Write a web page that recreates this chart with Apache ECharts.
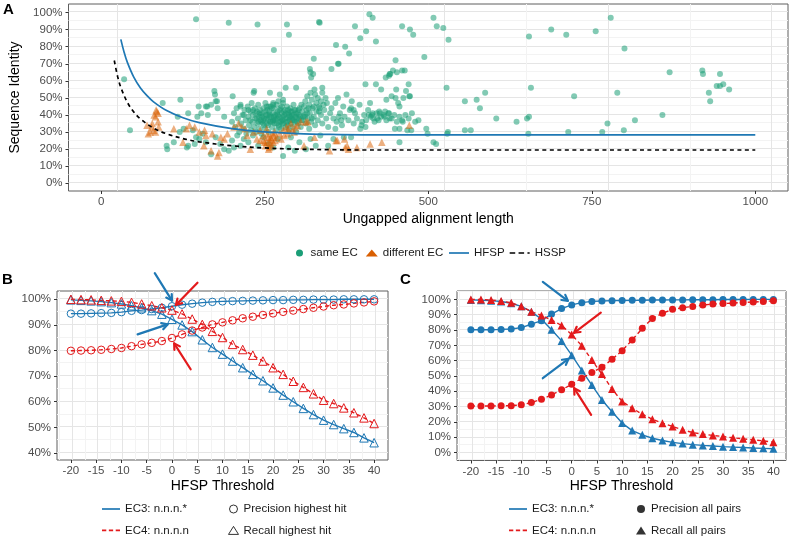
<!DOCTYPE html>
<html><head><meta charset="utf-8">
<script src="https://cdn.jsdelivr.net/npm/echarts@6/dist/echarts.min.js"></script>
<style>html,body{margin:0;padding:0;background:#fff}#c{width:791px;height:540px}</style>
</head><body><div id="c"></div>
<script>
const FONT = "'Liberation Sans', Arial, Helvetica, sans-serif";
const BLUE = '#1f78b4', RED = '#e31a1c', GREEN = '#1b9e77', ORANGE = '#d95f02';

// ---------- Panel A data ----------
const sameEC = [
 [35,61],[44,31],[145,96],[195,94],[239,93],[284,93],[287,87],[333,94.5],[334,94],[264,78],[192,71],[325,73],[359,81],[373,80],[379,76],
 [388,92],[405,89],[396,85],[410,99],[415,97],[420,83],[460,92],[472,90],[477,87],[508,97],[513,92],[523,91],[531,84],[494,74],[450,72],
 [352,67],[363,70],[324,64],[319,67],[362,70],[420,58],[435,62],[441,64],[446,66],[460,66],[404,58],[428,55],[452,65],[464,66],[470,58],
 [466,54],[451,55],[450,50],[462,50],[472,51],[528,56],[556,48],[574,49],[587,53],[579,44],[485,37],[461,36],[456,32],[449,32],[468,31],
 [474,31],[497,32],[499,29],[530,30],[556,31],[565,31],[604,38],[635,36],[651,38],[654,39],[653,29],[654,86],[688,90],[711,87],[657,56],
 [723,51],[714,30],[756,89],[779,97],[800,79],[789,53],[766,30],[774,35],[799,31],[816,37],[858,40],[869,65],[919,66],[920,64],[946,64],
 [929,53],[931,48],[941,57],[946,57],[951,58],[960,55],[456,24],[508,24],[512,23],[411,47],[436,49],[444,51],[454,47],[456,45],[471,51],
 [382,44],[386,43],[414,40],[421,41],[426,41],[434,42],[439,41],[433,39],[441,38],[399,36],[396,32],[404,33],[409,40],[416,38],[424,37],
 [382,27],[371,27],[363,39],[367,37],[358,32],[529,29],[440,63],[442,64],
 [94,47],[117,39],[121,49],[126,32],[133,41],[140,31],[145,27],[147,39],[149,45],[153,41],[160,45],[162,45],[163,40],[168,46],[173,54],
 [174,52],[175,48],[177,48],[178,44],[188,39],[201,51],[213,45],[218,40],[225,43],[233,53],[234,54],[256,45],[258,53],[263,47],[271,48],
 [273,52],[278,49],[282,56],[298,56],[320,65],[321,62],[338,56],
 [200,36],[203,41],[205,33],[207,44],[209,38],[211,30],[213,46],[214,35],[216,40],[218,32],[219,43],[221,37],[222,29],[224,45],[225,39],
 [226,34],[228,42],[229,31],[230,47],[231,36],[232,40],[234,33],[235,44],[236,38],[237,30],[238,42],[239,35],[240,46],[241,39],[242,32],
 [243,43],[244,37],[245,29],[246,41],[247,35],[248,44],[249,38],[250,32],[251,47],[252,40],[253,35],[254,43],[255,37],[256,30],[257,42],
 [258,36],[259,45],[260,39],[261,33],[262,41],[263,37],[264,44],[265,35],[266,40],[267,31],[268,46],[269,38],[270,42],[271,34],[272,39],
 [273,36],[274,44],[275,32],[276,41],[277,37],[278,47],[279,35],[280,40],[281,43],[282,33],[283,38],[284,45],[285,36],[286,41],[287,31],
 [288,39],[289,44],[290,35],[291,42],[292,37],[293,33],[294,46],[295,40],[296,36],[297,43],[298,30],[299,38],[300,41],[301,35],[303,44],
 [304,39],[305,33],[307,42],[308,37],[310,45],[311,40],[313,35],[314,43],[316,38],[318,32],[319,41],[321,36],[323,44],[325,39],[327,34],
 [329,42],[331,37],[333,45],[336,40],[338,35],[341,43],[344,38],[347,33],[350,41],[245,36],[255,34],[265,38],[275,36],[285,34],[262,36],
 [272,33],[282,41],[252,38],[268,35],[278,39],[288,37],[258,40],[248,37],[238,38],[228,37],[292,40],[302,38],[312,39],[242,41],[232,43],
 [246,39],[251,42],[257,39],[261,44],[266,37],[270,40],[274,38],[279,42],[283,36],[287,40],[291,38],[295,43],[299,36],[303,40],[306,37],
 [249,34],[254,40],[259,36],[264,39],[269,41],[273,43],[277,35],[281,38],[286,43],[290,39],[294,37],[298,41],[302,43],[309,39],[244,40],
 [236,41],[240,36],[253,45],[263,46],[276,45],[289,42],[297,39],[306,46],[315,41],[322,38],
 [312,48],[315,51],[318,46],[320,53],[322,49],[325,45],[327,52],[329,47],[331,50],[334,44],[336,48],[338,53],[340,46],[343,50],[345,47],
 [326,55],[317,44],[333,42],
 [352,44],[355,38],[358,47],[360,36],[362,50],[365,41],[368,34],[370,45],[372,39],[375,52],[378,37],[380,43],[383,48],[386,35],[388,41],
 [391,38],[395,46],[398,34],[402,40],[405,37],[408,43],[412,39],[415,41],[418,36],[422,38],[425,42],[428,39],[432,40],[436,37],[440,41],
 [444,38],[448,40],[452,36],[456,39],[460,37],[465,40],[470,38],[475,41],[480,36],
 [100,22],[101,20],[111,24],[120,30],[131,21],[133,22],[143,23],[150,26],[155,29],[160,24],[168,17],[175,27],[182,23],[188,20],[195,19],
 [200,25],[203,21],[208,28],[213,22],[218,26],[225,24],[232,28],[240,22],[248,27],[256,23],[263,21],[270,26],[278,16],[286,21],[290,27],
 [296,19],[303,24],[313,20],[320,26],[328,22],[335,28],[347,22],[355,26]
];
const differentEC = [
 [70,34],[72,29],[75,30],[77,33],[78,35],[80,31],[81,40],[83,30],[83,39],[84,43],[85,42],[87,41],[87,36],[88,33],[111,32],[125,24],
 [130,32],[135,34],[143,33],[150,30],[157,22],[158,31],[168,19],[178,16],[180,18],[188,26],[193,29],[203,33],[210,35],[223,28],[228,20],
 [233,30],[238,26],[243,31],[243,25],[248,25],[248,28],[250,24],[253,32],[253,24],[255,27],[256,20],[257,21],[258,23],[258,25],[260,26],
 [262,29],[263,24],[265,30],[268,27],[273,29],[278,31],[283,33],[286,32],[290,35],[295,30],[300,34],[305,36],[310,22],[313,36],[316,36],
 [326,27],[349,19],[359,25],[361,25],[372,26],[373,21],[376,22],[378,20],[391,21],[411,23],[429,24],[471,34],
 [160,28],[170,29],[183,27],[215,33],[220,32],[251,22],[254,29],[259,27],[261,22],[264,28],[266,25],[275,26],[280,28],[285,29],[292,31],[297,33]
];
const hfspLen   = [30,35,40,50,60,70,80,100,125,150,200,250,300,350,400,450,1000];
const hfspIdent = [84.3,76.8,70.8,62.0,55.8,51.3,47.7,42.6,38.4,35.5,32.0,30.1,29.1,28.6,28.4,28.4,28.4];
const hsspLen   = [20,25,30,40,50,60,80,100,125,150,200,250,300,350,400,450,1000];
const hsspIdent = [71.9,62.7,56.2,47.4,41.7,37.7,32.3,29.0,26.2,24.3,22.0,20.7,20.0,19.7,19.5,19.5,19.5];

// ---------- Panels B & C data ----------
const thresholds = [-20,-18,-16,-14,-12,-10,-8,-6,-4,-2,0,2,4,6,8,10,12,14,16,18,20,22,24,26,28,30,32,34,36,38,40];
const bEc3Precision = [94.4,94.4,94.5,94.6,94.7,95.0,95.5,95.8,96.2,96.7,97.3,97.9,98.3,98.7,99.0,99.2,99.3,99.4,99.5,99.6,99.7,99.7,99.8,99.8,99.9,99.9,99.9,100,100,100,100];
const bEc3Recall    = [99.8,99.6,99.4,99.1,98.7,98.2,97.5,96.7,95.6,94.2,92.2,90.0,87.4,84.2,81.2,78.6,75.9,73.3,70.7,68.2,65.4,62.6,60.0,57.4,55.0,52.8,51.1,49.5,48.0,45.9,44.0];
const bEc4Precision = [79.9,80.0,80.1,80.3,80.6,81.0,81.7,82.4,83.0,83.7,84.9,86.3,87.8,89.0,90.2,91.0,91.8,92.6,93.2,93.9,94.5,95.1,95.6,96.2,96.7,97.2,97.7,98.0,98.4,98.8,99.2];
const bEc4Recall    = [100,99.9,99.8,99.6,99.4,99.2,98.8,98.2,97.5,96.7,95.8,94.3,92.3,90.2,87.5,85.1,82.4,80.4,78.2,75.9,73.3,70.7,68.0,65.6,63.1,60.6,59.3,57.6,55.7,53.7,51.5];
const cEc3Precision = [80.2,80.2,80.2,80.4,80.7,81.6,83.8,86.1,90.4,94.0,96.4,97.9,98.7,99.0,99.2,99.3,99.4,99.5,99.6,99.6,99.7,99.7,99.8,99.8,99.8,99.9,99.9,99.9,100,100,100];
const cEc3Recall    = [99.7,99.5,99.2,98.6,97.5,95.5,92.0,87.0,80.2,72.9,63.6,53.6,44.0,34.3,26.6,19.2,14.3,11.5,9.3,7.8,6.6,5.8,5.1,4.6,4.2,3.8,3.5,3.2,2.9,2.7,2.4];
const cEc4Precision = [30.4,30.4,30.4,30.5,30.6,31.1,32.6,34.8,37.6,40.9,44.6,48.5,52.2,55.7,60.9,66.5,73.5,81.1,87.6,90.9,93.5,94.6,95.4,96.3,97.0,97.3,97.6,98.0,98.3,98.7,99.1];
const cEc4Recall    = [100,100,99.6,98.9,97.8,95.5,92.0,89.5,86.5,83.0,77.0,69.7,60.4,51.2,41.5,33.3,28.9,25.0,21.7,19.1,17.0,14.8,13.0,12.0,11.1,10.4,9.6,8.9,8.3,7.6,6.7];

// tick labels
const aXTicks = [0,250,500,750,1000];
const aYTicks = [0,10,20,30,40,50,60,70,80,90,100];
const bcXTicks = [-20,-15,-10,-5,0,5,10,15,20,25,30,35,40];
const bYTicks = [40,50,60,70,80,90,100];
const cYTicks = [0,10,20,30,40,50,60,70,80,90,100];

// arrows: [tailX, tailY, headX, headY]
const arrowsB = [
  {c: BLUE, p: [-3.4,110.2, 0,99.5]},
  {c: RED,  p: [5.05,106.5, 0.77,97.8]},
  {c: BLUE, p: [-6.8,86.3, -0.87,90.2]},
  {c: RED,  p: [3.7,72.7, 0.43,82.8]}
];
const arrowsC = [
  {c: BLUE, p: [-5.73,111.5, -0.77,99.1]},
  {c: RED,  p: [5.77,91.3, 0.48,78.2]},
  {c: BLUE, p: [-5.73,48.5, -0.65,61.1]},
  {c: RED,  p: [3.85,24.6, 0.48,42]}
];

// ---------- helpers ----------
const MAJ = '#e5e5e5', MIN = '#f3f3f3', T = 'rgba(0,0,0,0)';
function colorCycle(len, majIdx, minIdx) {
  const a = [];
  for (let i = 0; i < len; i++) a.push(i === majIdx ? MAJ : (i === minIdx ? MIN : T));
  return a;
}
function zip(xs, ys) { return xs.map((x, i) => [x, ys[i]]); }

function gridAxis(gi, pos, min, max, interval, colors) {
  return {
    type: 'value', gridIndex: gi, position: pos, min: min, max: max, interval: interval,
    axisLine: {show: false, onZero: false}, axisTick: {show: false}, axisLabel: {show: false},
    splitLine: {show: true, showMinLine: false, showMaxLine: false, lineStyle: {color: colors, width: 1}}
  };
}
function labelAxis(gi, pos, min, max, ticks, fmt, name, gap, margin) {
  return {
    type: 'value', gridIndex: gi, position: pos, min: min, max: max,
    axisLine: {show: false, onZero: false},
    axisTick: {show: true, customValues: ticks, length: 3, lineStyle: {color: '#333', width: 1}},
    axisLabel: {customValues: ticks, formatter: fmt, color: '#4d4d4d', fontSize: 11.5, fontFamily: FONT, margin: margin},
    splitLine: {show: false},
    name: name, nameLocation: 'middle', nameGap: gap,
    nameTextStyle: {color: '#000', fontSize: 14, fontFamily: FONT}
  };
}
const pct = v => v + '%';
const num = v => String(v);

const grids = [
  {left: 59, top: 4, width: 729, height: 187},
  {left: 57, top: 291, width: 331, height: 169},
  {left: 457, top: 291, width: 329, height: 169.5}
].map(g => Object.assign(g, {show: true, borderColor: '#5e5e5e', borderWidth: 1, backgroundColor: '#fff', containLabel: false}));

const xAxes = [
  gridAxis(0, 'bottom', -50, 1050, 25, colorCycle(10, 2, 7)),
  gridAxis(1, 'bottom', -22.75, 42.75, 0.25, colorCycle(20, 11, 1)),
  gridAxis(2, 'bottom', -22.75, 42.5, 0.25, colorCycle(20, 11, 1)),
  labelAxis(0, 'bottom', -50, 1050, aXTicks, num, 'Ungapped alignment length', 21, 5),
  labelAxis(1, 'bottom', -22.75, 42.75, bcXTicks, num, 'HFSP Threshold', 19, 5),
  labelAxis(2, 'bottom', -22.75, 42.5, bcXTicks, num, 'HFSP Threshold', 19, 5)
];
const yAxes = [
  gridAxis(0, 'left', -4.5, 105, 0.5, colorCycle(20, 9, 19)),
  gridAxis(1, 'left', 37.25, 103.25, 0.25, colorCycle(40, 11, 31)),
  gridAxis(2, 'left', -5.25, 105.5, 0.25, colorCycle(40, 21, 1)),
  labelAxis(0, 'left', -4.5, 105, aYTicks, pct, 'Sequence Identity', 46.5, 6),
  labelAxis(1, 'left', 37.25, 103.25, bYTicks, pct, '', 0, 6),
  labelAxis(2, 'left', -5.25, 105.5, cYTicks, pct, '', 0, 6)
];

function lineSeries(name, gi, ys, color, dashed, sym, size, filled) {
  return {
    name: name, type: 'line', xAxisIndex: gi, yAxisIndex: gi, data: zip(thresholds, ys),
    symbol: sym, symbolSize: size, showSymbol: true, showAllSymbol: true,
    lineStyle: {color: color, width: 1.4, type: dashed ? [4, 3] : 'solid'},
    itemStyle: filled ? {color: color} : {color: T, borderColor: color, borderWidth: 1},
    emphasis: {disabled: true}, z: 3
  };
}

const series = [
  {name: 'same EC', type: 'scatter', xAxisIndex: 0, yAxisIndex: 0, data: sameEC, symbol: 'circle', symbolSize: 6,
   itemStyle: {color: GREEN, opacity: 0.55}, emphasis: {disabled: true}},
  {name: 'different EC', type: 'scatter', xAxisIndex: 0, yAxisIndex: 0, data: differentEC, symbol: 'triangle', symbolSize: 7.5,
   itemStyle: {color: ORANGE, opacity: 0.5}, emphasis: {disabled: true}},
  {name: 'HFSP', type: 'line', xAxisIndex: 0, yAxisIndex: 0, data: zip(hfspLen, hfspIdent), symbol: 'none', smooth: 0.35,
   lineStyle: {color: BLUE, width: 1.7}, itemStyle: {color: BLUE}, emphasis: {disabled: true}, z: 4},
  {name: 'HSSP', type: 'line', xAxisIndex: 0, yAxisIndex: 0, data: zip(hsspLen, hsspIdent), symbol: 'none', smooth: 0.35,
   lineStyle: {color: '#000', width: 1.7, type: [4, 3.5]}, itemStyle: {color: '#000'}, emphasis: {disabled: true}, z: 4},

  lineSeries('B ec3 precision', 1, bEc3Precision, BLUE, false, 'circle', 7.5, false),
  lineSeries('B ec3 recall', 1, bEc3Recall, BLUE, false, 'triangle', 8.5, false),
  lineSeries('B ec4 precision', 1, bEc4Precision, RED, true, 'circle', 7.5, false),
  lineSeries('B ec4 recall', 1, bEc4Recall, RED, true, 'triangle', 8.5, false),

  lineSeries('C ec3 precision', 2, cEc3Precision, BLUE, false, 'circle', 7, true),
  lineSeries('C ec3 recall', 2, cEc3Recall, BLUE, false, 'triangle', 8, true),
  lineSeries('C ec4 precision', 2, cEc4Precision, RED, true, 'circle', 7, true),
  lineSeries('C ec4 recall', 2, cEc4Recall, RED, true, 'triangle', 8, true),

  // legend-only entries
  {name: 'EC3: n.n.n.*', type: 'line', xAxisIndex: 1, yAxisIndex: 1, data: [], symbol: 'none', lineStyle: {color: BLUE, width: 1.6}, itemStyle: {color: BLUE}},
  {name: 'EC4: n.n.n.n', type: 'line', xAxisIndex: 1, yAxisIndex: 1, data: [], symbol: 'none', lineStyle: {color: RED, width: 1.6, type: [4, 3]}, itemStyle: {color: RED}},
  {name: 'Precision highest hit', type: 'scatter', xAxisIndex: 1, yAxisIndex: 1, data: [], symbol: 'circle', itemStyle: {color: T, borderColor: '#000', borderWidth: 1}},
  {name: 'Recall highest hit', type: 'scatter', xAxisIndex: 1, yAxisIndex: 1, data: [], symbol: 'triangle', itemStyle: {color: T, borderColor: '#000', borderWidth: 1}},
  {name: 'Precision all pairs', type: 'scatter', xAxisIndex: 1, yAxisIndex: 1, data: [], symbol: 'circle', itemStyle: {color: '#000'}},
  {name: 'Recall all pairs', type: 'scatter', xAxisIndex: 1, yAxisIndex: 1, data: [], symbol: 'triangle', itemStyle: {color: '#000'}}
];

const legText = {color: '#1a1a1a', fontSize: 11.5, fontFamily: FONT};
function leg(data, left, top, w, h, gap, orient) {
  return {data: data, left: left, top: top, itemWidth: w, itemHeight: h, itemGap: gap, orient: orient || 'horizontal',
    padding: 0, selectedMode: false, textStyle: legText, symbolKeepAspect: true, height: 45};
}
const DASH = 'path://M0,0H5V1H0ZM8,0H13V1H8ZM16,0H21V1H16Z';
const DASH2 = 'path://M0,0H5V1H0ZM8,0H13V1H8ZM16,0H18V1H16Z';
const lineItem = (n, c, dashed) => ({name: n, icon: dashed ? dashed : 'rect', itemStyle: {color: c, borderWidth: 0}});
const openItem = (n, ic) => ({name: n, icon: ic, itemStyle: {color: T, borderColor: '#000', borderWidth: 1}});
const fillItem = (n, ic) => ({name: n, icon: ic, itemStyle: {color: '#000', borderWidth: 0}});
function lineLeg(data, left, top, w, gap, orient) {
  const l = leg(data, left, top, w, 1.7, gap, orient);
  l.symbolKeepAspect = false;
  return l;
}

const legends = [
  leg([{name: 'same EC', icon: 'circle', itemStyle: {color: GREEN, opacity: 1}},
       {name: 'different EC', icon: 'triangle', itemStyle: {color: ORANGE, opacity: 1}}], 296, 247, 12, 7, 8),
  lineLeg([lineItem('HFSP', BLUE), lineItem('HSSP', '#000', DASH2)], 449, 247, 20, 5),
  lineLeg([lineItem('EC3: n.n.n.*', BLUE), lineItem('EC4: n.n.n.n', RED, DASH)], 102, 503, 18, 9.4, 'vertical'),
  leg([openItem('Precision highest hit', 'circle'), openItem('Recall highest hit', 'triangle')], 228, 503, 10, 8, 9.4, 'vertical'),
  lineLeg([lineItem('EC3: n.n.n.*', BLUE), lineItem('EC4: n.n.n.n', RED, DASH)], 509, 503, 18, 9.4, 'vertical'),
  leg([fillItem('Precision all pairs', 'circle'), fillItem('Recall all pairs', 'triangle')], 636, 503, 10, 8, 9.4, 'vertical')
];

const titles = [['A', 3, 2], ['B', 2, 272], ['C', 400, 272]].map(t => ({
  text: t[0], left: t[1], top: t[2], padding: 0,
  textStyle: {fontSize: 15, fontWeight: 'bold', color: '#000', fontFamily: FONT}
}));

const chart = echarts.init(document.getElementById('c'), null, {renderer: 'canvas'});
chart.setOption({
  animation: false, backgroundColor: '#fff',
  title: titles, grid: grids, xAxis: xAxes, yAxis: yAxes, legend: legends, series: series
});

// arrows computed through the axes' own scales
function arrowGraphics(list, idx) {
  const out = [];
  list.forEach(a => {
    const t = chart.convertToPixel({xAxisIndex: idx, yAxisIndex: idx}, [a.p[0], a.p[1]]);
    const h = chart.convertToPixel({xAxisIndex: idx, yAxisIndex: idx}, [a.p[2], a.p[3]]);
    const dx = h[0] - t[0], dy = h[1] - t[1], L = Math.hypot(dx, dy);
    const ux = dx / L, uy = dy / L, len = 6.5, ang = Math.PI / 6;
    const w1 = [h[0] - len * (ux * Math.cos(ang) - uy * Math.sin(ang)), h[1] - len * (uy * Math.cos(ang) + ux * Math.sin(ang))];
    const w2 = [h[0] - len * (ux * Math.cos(ang) + uy * Math.sin(ang)), h[1] - len * (uy * Math.cos(ang) - ux * Math.sin(ang))];
    const st = {stroke: a.c, lineWidth: 2.2, lineCap: 'round', lineJoin: 'round', fill: null};
    out.push({type: 'polyline', z: 100, shape: {points: [t, h]}, style: st, silent: true});
    out.push({type: 'polyline', z: 100, shape: {points: [w1, h, w2]}, style: st, silent: true});
  });
  return out;
}
chart.setOption({graphic: arrowGraphics(arrowsB, 1).concat(arrowGraphics(arrowsC, 2))});
</script></body></html>
